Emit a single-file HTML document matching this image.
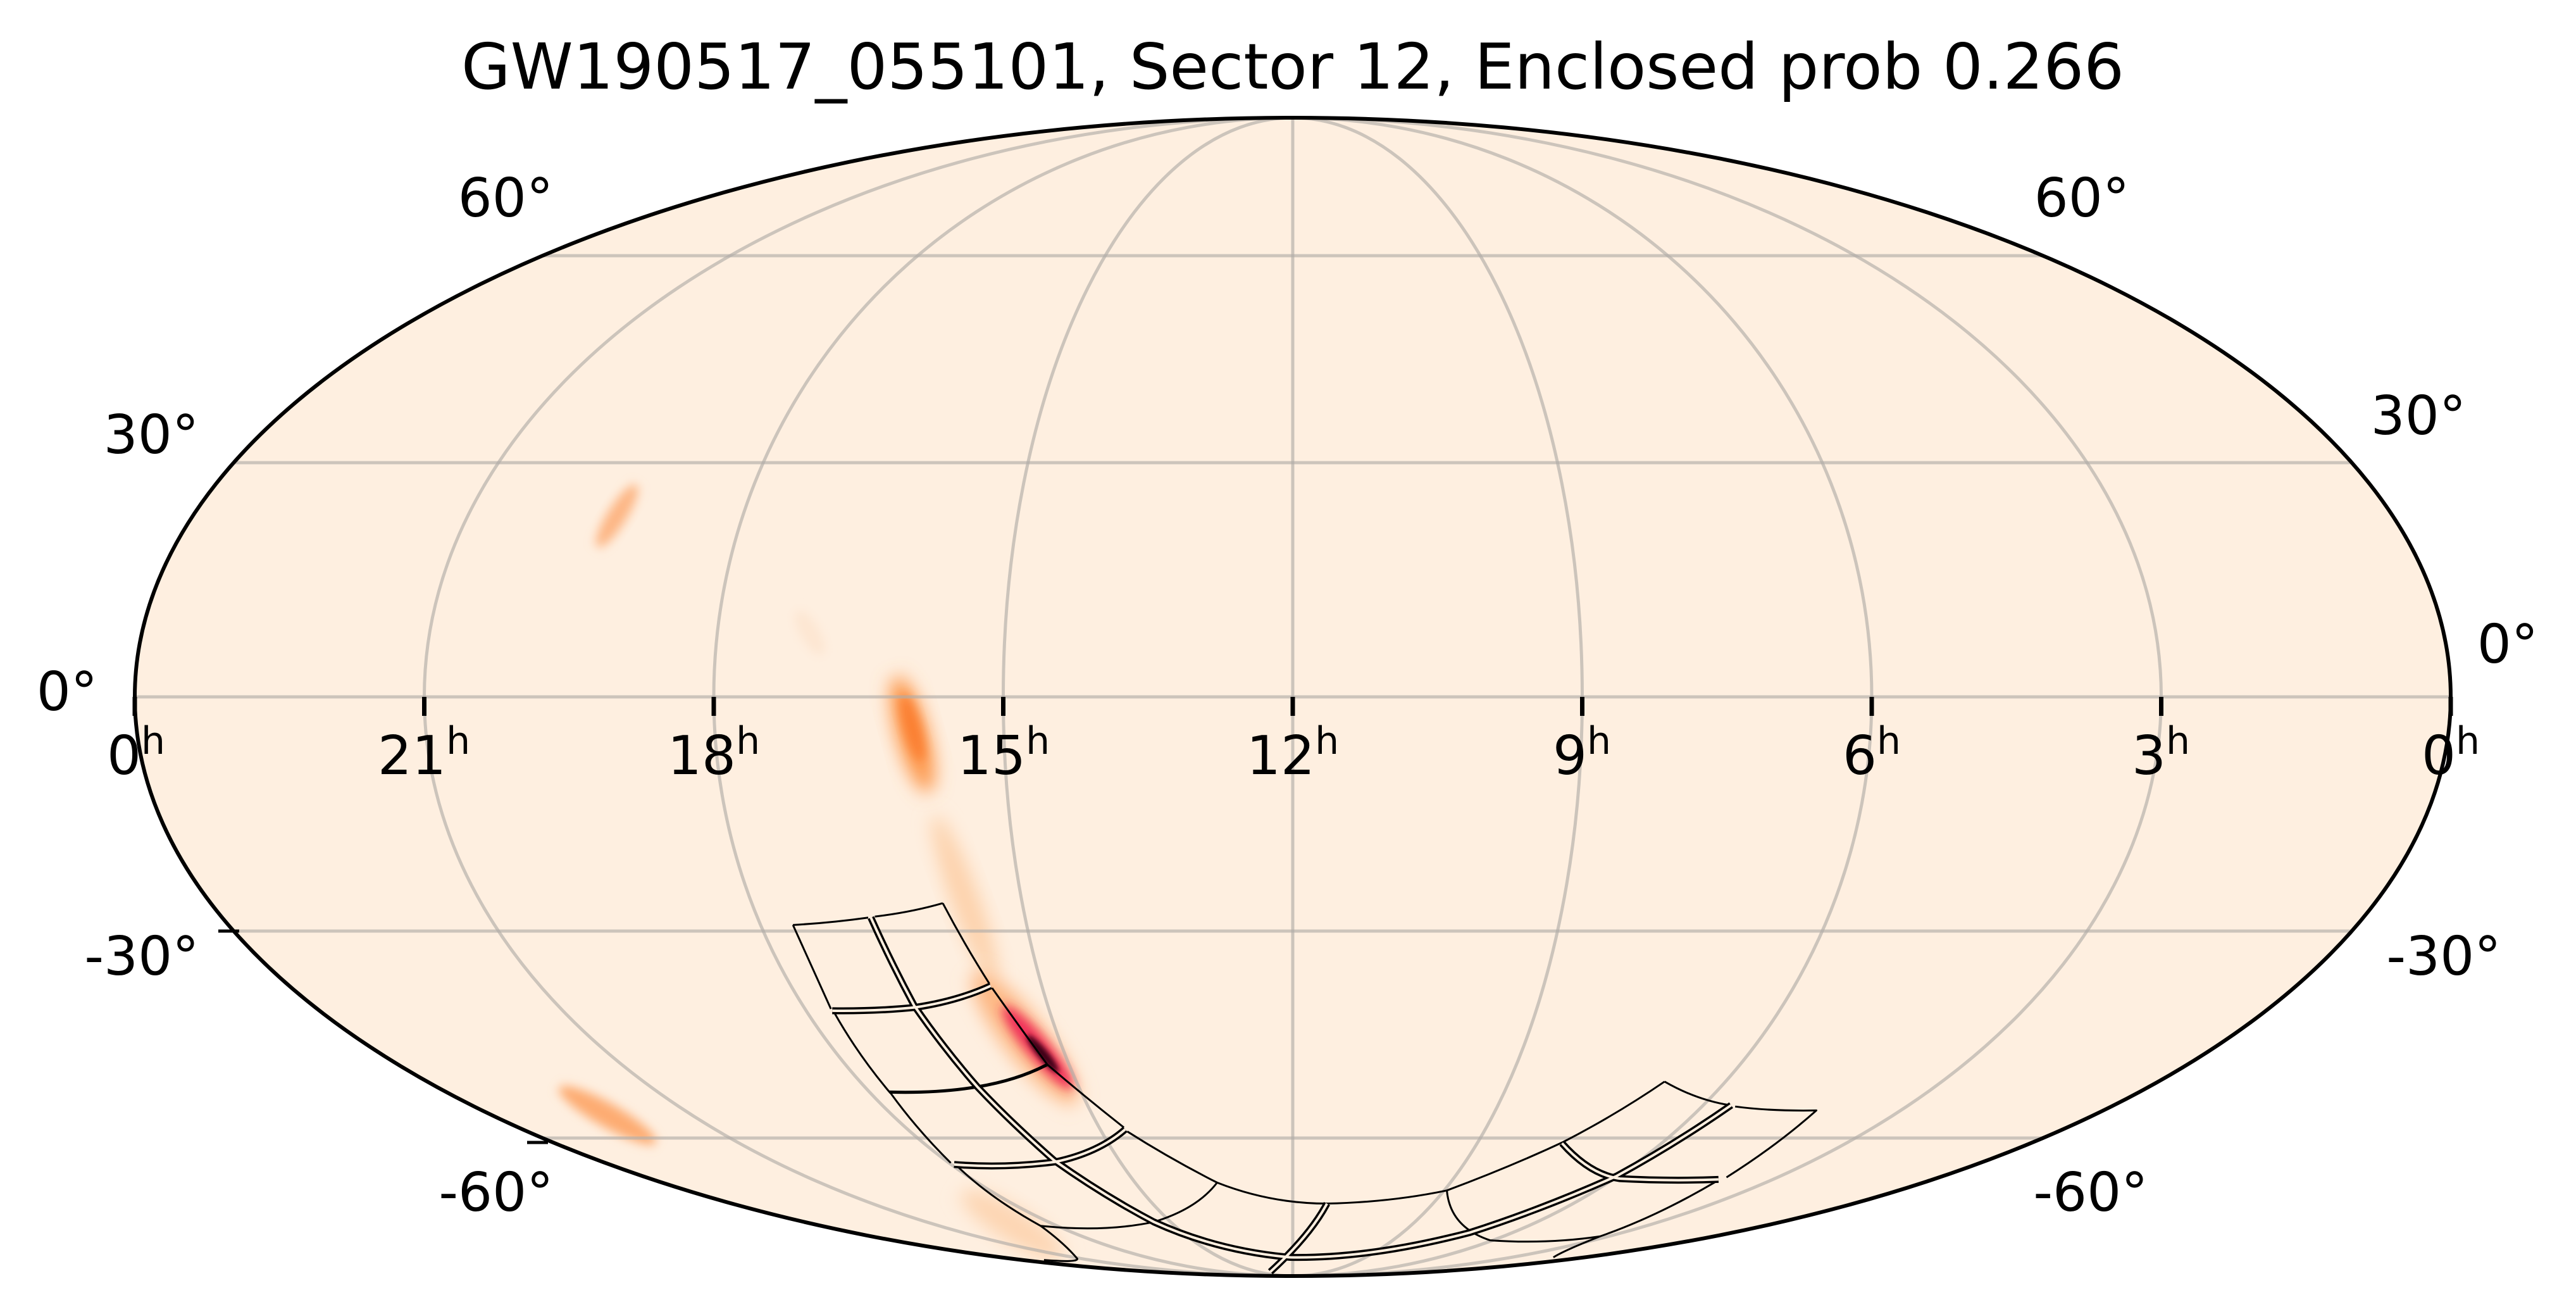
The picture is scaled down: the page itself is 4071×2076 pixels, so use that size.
<!DOCTYPE html>
<html><head><meta charset="utf-8"><style>html,body{margin:0;padding:0;background:#fff}svg{display:block}</style></head>
<body>
<svg width="4071" height="2076" viewBox="0 0 4071 2076" xmlns="http://www.w3.org/2000/svg" font-family="DejaVu Sans, Liberation Sans, sans-serif">
<defs>
<clipPath id="cl"><ellipse cx="2043" cy="1101" rx="1830" ry="915"/></clipPath>
<filter id="b1" x="-50%" y="-50%" width="200%" height="200%"><feGaussianBlur stdDeviation="14"/></filter>
<filter id="b2" x="-50%" y="-50%" width="200%" height="200%"><feGaussianBlur stdDeviation="8"/></filter>
<filter id="b3" x="-50%" y="-50%" width="200%" height="200%"><feGaussianBlur stdDeviation="4"/></filter>
</defs>
<text x="2043" y="140" font-size="100" text-anchor="middle" textLength="2628" lengthAdjust="spacingAndGlyphs">GW190517_055101, Sector 12, Enclosed prob 0.266</text>
<ellipse cx="2043" cy="1101" rx="1830" ry="915" fill="#feefe0"/>
<g clip-path="url(#cl)">
 <ellipse cx="1525" cy="1420" rx="140" ry="22" fill="#fdd2ac" transform="rotate(70 1525 1420)" filter="url(#b1)"/>
 <ellipse cx="1442" cy="1160" rx="95" ry="26" fill="#fd9a50" transform="rotate(74.7 1442 1160)" filter="url(#b1)"/>
 <ellipse cx="1442" cy="1150" rx="55" ry="13" fill="#fb7f30" transform="rotate(74.7 1442 1150)" filter="url(#b2)"/>
 <ellipse cx="1620" cy="1640" rx="130" ry="34" fill="#fdb783" transform="rotate(52 1620 1640)" filter="url(#b1)"/>
 <ellipse cx="1640" cy="1655" rx="85" ry="18" fill="#f0305a" transform="rotate(50 1640 1655)" filter="url(#b2)"/>
 <ellipse cx="1648" cy="1665" rx="38" ry="8" fill="#3c0018" transform="rotate(50 1648 1665)" filter="url(#b3)"/>
 <ellipse cx="975" cy="815" rx="58" ry="15" fill="#fdb684" transform="rotate(-58 975 815)" filter="url(#b2)"/>
 <ellipse cx="1280" cy="1000" rx="40" ry="15" fill="#fde6d2" transform="rotate(60 1280 1000)" filter="url(#b2)"/>
 <ellipse cx="960" cy="1762" rx="88" ry="19" fill="#fdac72" transform="rotate(29.6 960 1762)" filter="url(#b2)"/>
 <ellipse cx="1600" cy="1935" rx="95" ry="26" fill="#fdd5b2" transform="rotate(32 1600 1935)" filter="url(#b1)"/>
 <g fill="none" stroke="#b0aca8" stroke-opacity="0.65" stroke-width="5">
  <ellipse cx="2043" cy="1101" rx="457.5" ry="915"/>
  <ellipse cx="2043" cy="1101" rx="915" ry="915"/>
  <ellipse cx="2043" cy="1101" rx="1372.5" ry="915"/>
  <line x1="2043" y1="186" x2="2043" y2="2016"/>
  <line x1="200" y1="1101" x2="3890" y2="1101"/>
  <line x1="200" y1="731" x2="3890" y2="731"/>
  <line x1="200" y1="1471" x2="3890" y2="1471"/>
  <line x1="200" y1="404" x2="3890" y2="404"/>
  <line x1="200" y1="1798" x2="3890" y2="1798"/>
 </g>
 <g transform="translate(1250,1400) scale(1.0523,0.4145)" fill="none" stroke-linejoin="round">
  <g stroke="#000" stroke-width="3">
   <path vector-effect="non-scaling-stroke" d="M3,148 Q30,300 60,468 M65,482 Q100,640 148,785 L150,790 Q190,930 240,1055 M250,1068 Q300,1190 375,1295 Q410,1360 430,1420 Q432,1435 380,1425"/>
   <path vector-effect="non-scaling-stroke" d="M3,148 Q60,140 116,120 M126,116 Q180,100 228,65"/>
   <path vector-effect="non-scaling-stroke" d="M228,65 Q260,220 298,372 M302,388 Q350,560 385,680 Q440,800 500,920 M505,935 Q570,1040 640,1130 Q720,1210 805,1210 Q900,1205 985,1160 Q1080,1070 1160,975 Q1240,870 1312,745"/>
   <path vector-effect="non-scaling-stroke" d="M1312,745 Q1360,815 1410,835 M1418,840 Q1470,858 1540,855 Q1480,990 1405,1110 M1390,1125 Q1300,1260 1215,1335 Q1160,1390 1145,1415"/>
   <path vector-effect="non-scaling-stroke" stroke-width="5" d="M148,785 Q220,790 280,765 Q340,740 385,680"/>
   <path vector-effect="non-scaling-stroke" d="M375,1295 Q470,1320 545,1280 Q610,1230 640,1130"/>
   <path vector-effect="non-scaling-stroke" d="M985,1160 Q990,1300 1050,1350 Q1135,1365 1215,1335"/>
  </g>
  <g stroke="#000" stroke-width="11">
   <path vector-effect="non-scaling-stroke" d="M120,120 Q150,290 185,455 Q230,620 280,765 Q330,900 395,1045 Q470,1180 545,1280 Q640,1390 750,1415 Q870,1420 1020,1320 Q1130,1230 1240,1105 Q1330,980 1412,835"/>
   <path vector-effect="non-scaling-stroke" d="M62,475 Q130,477 187,462 Q250,438 300,380"/>
   <path vector-effect="non-scaling-stroke" d="M245,1061 Q320,1076 397,1051 Q462,1016 502,927"/>
   <path vector-effect="non-scaling-stroke" d="M805,1210 Q780,1330 720,1470"/>
   <path vector-effect="non-scaling-stroke" d="M1158,980 Q1200,1100 1245,1115 Q1320,1125 1393,1118"/>
  </g>
  <g stroke="#feefe0" stroke-width="4">
   <path vector-effect="non-scaling-stroke" d="M120,120 Q150,290 185,455 Q230,620 280,765 Q330,900 395,1045 Q470,1180 545,1280 Q640,1390 750,1415 Q870,1420 1020,1320 Q1130,1230 1240,1105 Q1330,980 1412,835"/>
   <path vector-effect="non-scaling-stroke" d="M62,475 Q130,477 187,462 Q250,438 300,380"/>
   <path vector-effect="non-scaling-stroke" d="M245,1061 Q320,1076 397,1051 Q462,1016 502,927"/>
   <path vector-effect="non-scaling-stroke" d="M805,1210 Q780,1330 720,1470"/>
   <path vector-effect="non-scaling-stroke" d="M1158,980 Q1200,1100 1245,1115 Q1320,1125 1393,1118"/>
  </g>
 </g>
</g>
<ellipse cx="2043" cy="1101" rx="1830" ry="915" fill="none" stroke="#000" stroke-width="6"/>
<g stroke="#000" stroke-width="7">
 <line x1="213" y1="1101" x2="213" y2="1131"/>
 <line x1="670.5" y1="1101" x2="670.5" y2="1131"/>
 <line x1="1128" y1="1101" x2="1128" y2="1131"/>
 <line x1="1585.5" y1="1101" x2="1585.5" y2="1131"/>
 <line x1="2043" y1="1101" x2="2043" y2="1131"/>
 <line x1="2500.5" y1="1101" x2="2500.5" y2="1131"/>
 <line x1="2958" y1="1101" x2="2958" y2="1131"/>
 <line x1="3415.5" y1="1101" x2="3415.5" y2="1131"/>
 <line x1="3873" y1="1101" x2="3873" y2="1131"/>
 <line x1="345" y1="1471" x2="378" y2="1471" stroke-width="5"/>
 <line x1="833" y1="1805" x2="866" y2="1805" stroke-width="5"/>
</g>
<g font-size="85" text-anchor="middle" fill="#000">
 <text x="215" y="1223">0<tspan font-size="60" dy="-32">h</tspan></text>
 <text x="670" y="1223">21<tspan font-size="60" dy="-32">h</tspan></text>
 <text x="1128" y="1223">18<tspan font-size="60" dy="-32">h</tspan></text>
 <text x="1586" y="1223">15<tspan font-size="60" dy="-32">h</tspan></text>
 <text x="2043" y="1223">12<tspan font-size="60" dy="-32">h</tspan></text>
 <text x="2500" y="1223">9<tspan font-size="60" dy="-32">h</tspan></text>
 <text x="2958" y="1223">6<tspan font-size="60" dy="-32">h</tspan></text>
 <text x="3415" y="1223">3<tspan font-size="60" dy="-32">h</tspan></text>
 <text x="3873" y="1223">0<tspan font-size="60" dy="-32">h</tspan></text>
 <text x="799" y="342">60°</text>
 <text x="3290" y="342">60°</text>
 <text x="239" y="716">30°</text>
 <text x="3822" y="686">30°</text>
 <text x="106" y="1122">0°</text>
 <text x="3963" y="1047">0°</text>
 <text x="224" y="1540">-30°</text>
 <text x="3862" y="1540">-30°</text>
 <text x="784" y="1913">-60°</text>
 <text x="3304" y="1913">-60°</text>
</g>
</svg>
</body></html>
